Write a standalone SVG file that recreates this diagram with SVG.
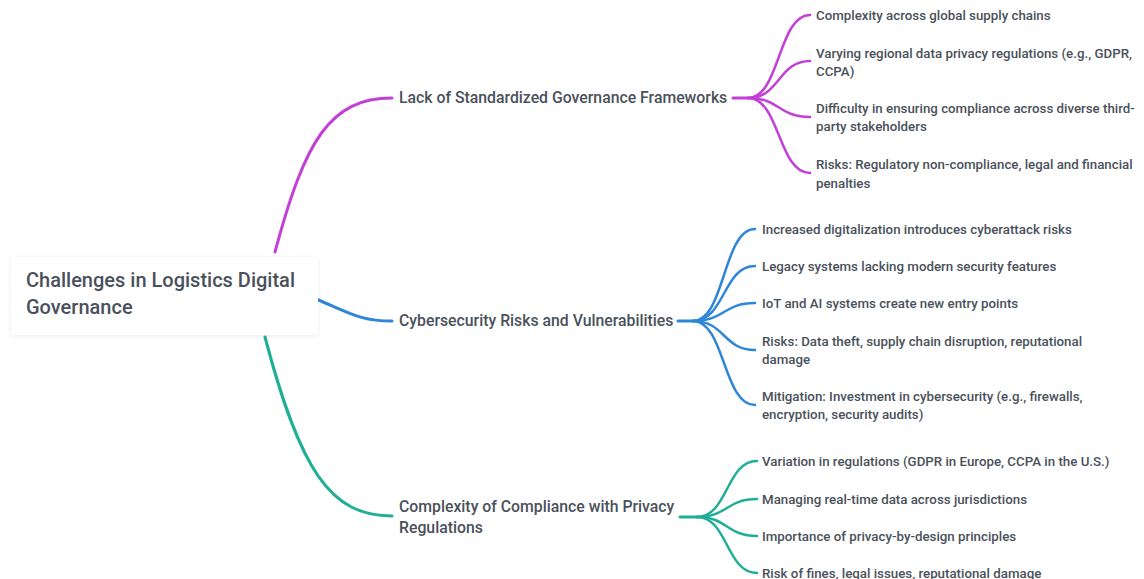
<svg xmlns="http://www.w3.org/2000/svg" width="1144" height="579" viewBox="0 0 1144 579">
<style>
text{font-family:Roboto,"Liberation Sans",sans-serif;fill:#4a515b;font-weight:500}
.root{font-size:20px}
.main{font-size:15.8px}
.leaf{font-size:13.3px}
.c{fill:none;stroke-linecap:round}
.m{stroke:#c340d6}
.b{stroke:#2f86d9}
.t{stroke:#1fae96}
.w1{stroke-width:3}
.w2{stroke-width:2.5}
</style>
<defs>
<filter id="sh" x="-10%" y="-20%" width="120%" height="140%">
<feDropShadow dx="0" dy="1" stdDeviation="2" flood-color="#000" flood-opacity="0.08"/>
</filter>
</defs>
<rect width="1144" height="579" fill="#fff"/>
<g id="connectors">
<path class="c m w1" d="M275,252 C305,140 330,98 392,98"/>
<path class="c b w1" d="M316,299 C350,313 360,321 392,321"/>
<path class="c t w1" d="M265,337 C300,470 330,516 392,516"/>
<path class="c m w1" d="M733,98 L748,98"/>
<path class="c m w2" d="M748,98 C780,98 778,15 810,15"/>
<path class="c m w2" d="M748,98 C780,98 778,61 810,61"/>
<path class="c m w2" d="M748,98 C780,98 778,117 810,117"/>
<path class="c m w2" d="M748,98 C780,98 778,173 810,173"/>
<path class="c b w1" d="M678,321 L693,321"/>
<path class="c b w2" d="M693,321 C725,321 723,229 755,229"/>
<path class="c b w2" d="M693,321 C725,321 723,266 755,266"/>
<path class="c b w2" d="M693,321 C725,321 723,303 755,303"/>
<path class="c b w2" d="M693,321 C725,321 723,350 755,350"/>
<path class="c b w2" d="M693,321 C725,321 723,405 755,405"/>
<path class="c t w1" d="M680,517 L697,517"/>
<path class="c t w2" d="M697,517 C728,517 726,461 757,461"/>
<path class="c t w2" d="M697,517 C728,517 726,499 757,499"/>
<path class="c t w2" d="M697,517 C728,517 726,536 757,536"/>
<path class="c t w2" d="M697,517 C728,517 726,573 757,573"/>
</g>
<g id="root">
<rect x="11" y="257" width="307" height="78" rx="3" fill="#fff" filter="url(#sh)"/>
<text class="root" x="26" y="287">Challenges in Logistics Digital</text>
<text class="root" x="26" y="314">Governance</text>
</g>
<g id="n1">
<text class="main" x="399" y="103">Lack of Standardized Governance Frameworks</text>
</g>
<g id="n1a"><text class="leaf" x="816" y="20">Complexity across global supply chains</text></g>
<g id="n1b"><text class="leaf" x="816" y="58">Varying regional data privacy regulations (e.g., GDPR,</text><text class="leaf" x="816" y="76">CCPA)</text></g>
<g id="n1c"><text class="leaf" x="816" y="113">Difficulty in ensuring compliance across diverse third-</text><text class="leaf" x="816" y="131">party stakeholders</text></g>
<g id="n1d"><text class="leaf" x="816" y="169">Risks: Regulatory non-compliance, legal and financial</text><text class="leaf" x="816" y="188">penalties</text></g>
<g id="n2">
<text class="main" x="399" y="326">Cybersecurity Risks and Vulnerabilities</text>
</g>
<g id="n2a"><text class="leaf" x="762" y="234">Increased digitalization introduces cyberattack risks</text></g>
<g id="n2b"><text class="leaf" x="762" y="271">Legacy systems lacking modern security features</text></g>
<g id="n2c"><text class="leaf" x="762" y="308">IoT and AI systems create new entry points</text></g>
<g id="n2d"><text class="leaf" x="762" y="346">Risks: Data theft, supply chain disruption, reputational</text><text class="leaf" x="762" y="364">damage</text></g>
<g id="n2e"><text class="leaf" x="762" y="401">Mitigation: Investment in cybersecurity (e.g., firewalls,</text><text class="leaf" x="762" y="419">encryption, security audits)</text></g>
<g id="n3">
<text class="main" x="399" y="512">Complexity of Compliance with Privacy</text>
<text class="main" x="399" y="533">Regulations</text>
</g>
<g id="n3a"><text class="leaf" x="762" y="466">Variation in regulations (GDPR in Europe, CCPA in the U.S.)</text></g>
<g id="n3b"><text class="leaf" x="762" y="504">Managing real-time data across jurisdictions</text></g>
<g id="n3c"><text class="leaf" x="762" y="541">Importance of privacy-by-design principles</text></g>
<g id="n3d"><text class="leaf" x="762" y="578">Risk of fines, legal issues, reputational damage</text></g>
</svg>
